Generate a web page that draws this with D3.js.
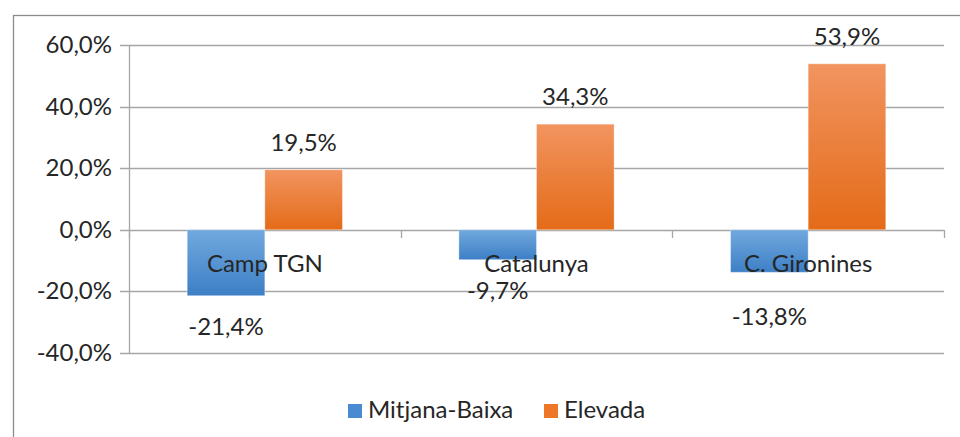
<!DOCTYPE html>
<html>
<head>
<meta charset="utf-8">
<script src="https://cdn.jsdelivr.net/npm/d3@7"></script>
<style>
    html, body { margin: 0; padding: 0; background: #fff; }
    svg { display: block; font-family: Lato, "Open Sans", sans-serif; }
    .lbl { font-size: 24px; fill: #262626; }
    .grid line { stroke: #a6a6a6; stroke-width: 1.3; }
</style>
</head>
<body>
<svg id="chart" width="960" height="437"></svg>
<script>

// values (percent)
const categories = ["Camp TGN", "Catalunya", "C. Gironines"]
const series = ["Mitjana-Baixa", "Elevada"]
const mitjanaBaixa = [-21.4, -9.7, -13.8]
const elevada = [19.5, 34.3, 53.9]
const yTicks = [-40, -20, 0, 20, 40, 60]

const values = { "Mitjana-Baixa": mitjanaBaixa, "Elevada": elevada }

const gradients = {
    "Mitjana-Baixa": ["#71a9de", "#3d7fc6"],
    "Elevada": ["#f29460", "#e46b18"]
}
const swatch = { "Mitjana-Baixa": "#4a8ad0", "Elevada": "#ee7628" }

// the C. Gironines negative label was dragged a bit lower in the original
const labelNudge = { "C. Gironines": 14 }

const locale = d3.formatLocale({ decimal: ",", thousands: ".", grouping: [3], currency: ["", "€"], minus: "-" })
const fmt = (v) => locale.format(".1f")(v) + "%"

const svg = d3.select("#chart")

// outer chart frame, runs off the right and bottom edge
svg.append("rect")
    .attr("x", 13.5).attr("y", 15.5)
    .attr("width", 980).attr("height", 440)
    .attr("fill", "none").attr("stroke", "#8c8c8c").attr("stroke-width", 1.3)

const plot = { left: 129, right: 944, top: 45, bottom: 353 }

const y = d3.scaleLinear().domain([-40, 60]).range([plot.bottom, plot.top])
const x0 = d3.scaleBand().domain(categories).range([plot.left, plot.right])
// gap width 150% like the spreadsheet default
const gap = x0.bandwidth() * 1.5 / 3.5 / 2
const x1 = d3.scaleBand().domain(series).range([gap, x0.bandwidth() - gap])

const defs = svg.append("defs")
for (let s of series) {
    let g = defs.append("linearGradient").attr("id", "grad-" + s.replace(/\W/g, ""))
        .attr("x1", 0).attr("y1", 0).attr("x2", 0).attr("y2", 1)
    g.append("stop").attr("offset", "0%").attr("stop-color", gradients[s][0])
    g.append("stop").attr("offset", "100%").attr("stop-color", gradients[s][1])
}

// gridlines + y ticks (ticks stick out left of the axis)
svg.append("g").attr("class", "grid")
    .selectAll("line").data(yTicks).join("line")
    .attr("x1", plot.left - 9).attr("x2", plot.right)
    .attr("y1", (d) => Math.round(y(d)) + 0.5).attr("y2", (d) => Math.round(y(d)) + 0.5)

svg.append("line")
    .attr("x1", plot.left + 0.5).attr("x2", plot.left + 0.5)
    .attr("y1", plot.top).attr("y2", plot.bottom + 0.5)
    .attr("stroke", "#a6a6a6").attr("stroke-width", 1.3)

// category tick marks on the zero line
let catEdges = categories.map((c) => x0(c)).concat([plot.right])
svg.append("g").selectAll("line").data(catEdges).join("line")
    .attr("x1", (d) => Math.round(d) + 0.5).attr("x2", (d) => Math.round(d) + 0.5)
    .attr("y1", Math.round(y(0))).attr("y2", Math.round(y(0)) + 8)
    .attr("stroke", "#a6a6a6").attr("stroke-width", 1.3)

svg.append("g").selectAll("text").data(yTicks).join("text")
    .attr("class", "lbl")
    .attr("x", plot.left - 17).attr("y", (d) => y(d) + 8)
    .attr("text-anchor", "end")
    .text(fmt)

// bars
let bars = []
categories.forEach((c, i) => {
    for (let s of series) bars.push({ cat: c, series: s, value: values[s][i] })
})

svg.append("g").selectAll("rect").data(bars).join("rect")
    .attr("x", (d) => x0(d.cat) + x1(d.series))
    .attr("width", x1.bandwidth())
    .attr("y", (d) => y(Math.max(0, d.value)))
    .attr("height", (d) => Math.abs(y(d.value) - y(0)))
    .attr("fill", (d) => `url(#grad-${d.series.replace(/\W/g, "")})`)
    .attr("stroke", "rgba(255,255,255,0.35)").attr("stroke-width", 1)

// category labels sit just under the zero line, over the bars
svg.append("g").selectAll("text").data(categories).join("text")
    .attr("class", "lbl")
    .attr("x", (d) => x0(d) + x0.bandwidth() / 2)
    .attr("y", y(0) + 42)
    .attr("text-anchor", "middle")
    .text((d) => d)

// data labels
svg.append("g").selectAll("text").data(bars).join("text")
    .attr("class", "lbl")
    .attr("x", (d) => x0(d.cat) + x1(d.series) + x1.bandwidth() / 2)
    .attr("y", (d) => d.value >= 0 ? y(d.value) - 19 : y(d.value) + 39 + (labelNudge[d.cat] || 0))
    .attr("text-anchor", "middle")
    .text((d) => fmt(d.value))

// legend
let legendX = [348, 544]
let legend = svg.append("g").selectAll("g").data(series).join("g")
    .attr("transform", (d, i) => `translate(${legendX[i]},404)`)
legend.append("rect").attr("width", 14).attr("height", 14)
    .attr("fill", (d) => swatch[d])
legend.append("text").attr("class", "lbl")
    .attr("x", 20).attr("y", 14)
    .text((d) => d)

</script>
</body>
</html>
